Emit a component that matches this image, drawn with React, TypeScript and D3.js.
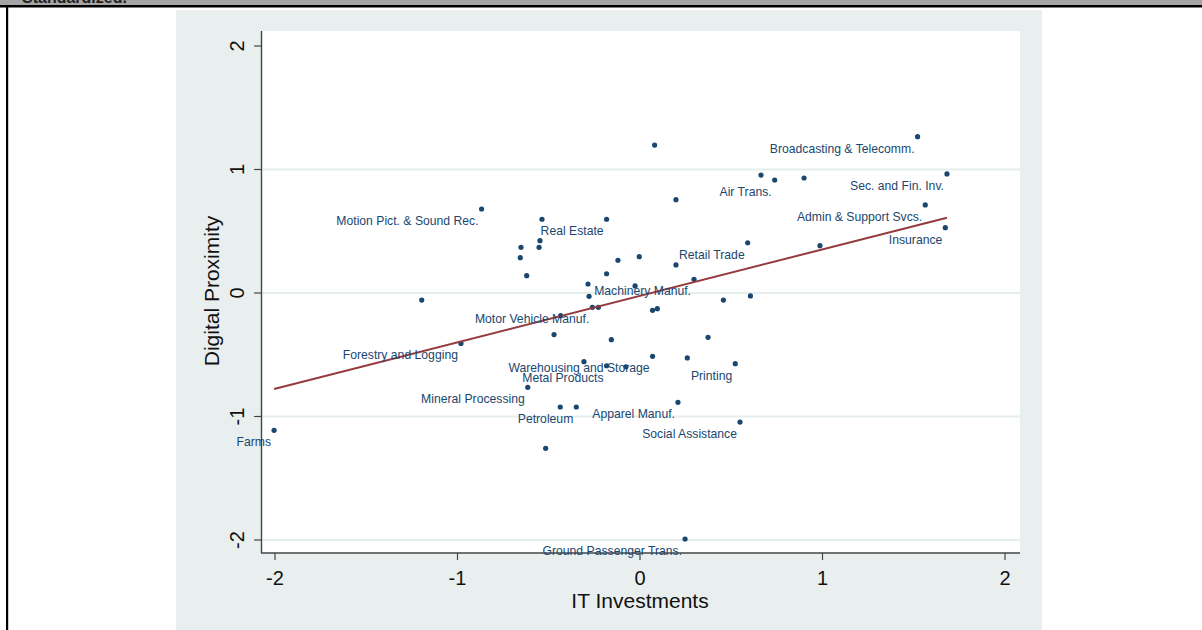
import React from "react";
import * as d3 from "d3";

// ---- Data ----
const industries: string[] = [
  "", "Broadcasting & Telecomm.", "", "Air Trans.", "", "Sec. and Fin. Inv.",
  "Motion Pict. & Sound Rec.", "", "Real Estate", "", "Admin & Support Svcs.", "Insurance",
  "", "", "", "Retail Trade", "", "", "", "", "", "", "", "Machinery Manuf.",
  "", "", "", "", "", "", "Motor Vehicle Manuf.", "", "", "", "", "", "", "",
  "Forestry and Logging", "", "Metal Products", "Warehousing and Storage", "", "Printing", "",
  "Mineral Processing", "", "Petroleum", "Apparel Manuf.", "Social Assistance", "Farms", "",
  "Ground Passenger Trans.",
];
const itInvestment: number[] = [
  0.08, 1.521, 0.663, 0.738, 0.899, 1.682,
  -0.868, -0.537, -0.183, 0.197, 1.563, 1.673,
  -0.548, -0.652, -0.553, 0.59, 0.986, -0.656, -0.121, -0.004, -0.621, -0.183, 0.197, 0.296,
  -0.285, -0.027, -1.196, -0.279, 0.457, 0.605, -0.261, -0.228, 0.069, 0.095, -0.435, -0.471, -0.157, 0.373,
  -0.981, -0.307, -0.183, 0.069, 0.259, 0.522, -0.077,
  -0.615, -0.437, -0.349, 0.208, 0.548, -2.005, -0.517,
  0.247,
];
const digitalProximity: number[] = [
  1.198, 1.266, 0.955, 0.915, 0.931, 0.964,
  0.68, 0.597, 0.597, 0.756, 0.713, 0.529,
  0.424, 0.37, 0.37, 0.407, 0.383, 0.286, 0.265, 0.294, 0.14, 0.156, 0.227, 0.111,
  0.073, 0.057, -0.057, -0.027, -0.057, -0.024, -0.116, -0.116, -0.14, -0.127, -0.184, -0.337, -0.378, -0.359,
  -0.408, -0.556, -0.589, -0.513, -0.526, -0.572, -0.597,
  -0.764, -0.923, -0.923, -0.885, -1.045, -1.112, -1.258,
  -1.992,
];
const xTicks: number[] = [-2, -1, 0, 1, 2];
const yTicks: number[] = [-2, -1, 0, 1, 2];
const yGrid: number[] = [-2, -1, 0, 1];

const NAVY = "#1a476f";
const MAROON = "#953a3e";
const FONT = "'Liberation Sans', Arial, Helvetica, sans-serif";

export default function App() {
  const W = 1202, H = 630;
  const plot = { left: 262, right: 1020, top: 31, bottom: 553 };
  const x = d3.scaleLinear().domain([-2, 2]).range([275, 1005]);
  const y = d3.scaleLinear().domain([-2, 2]).range([540, 46]);

  const pts = itInvestment.map((v, i) => ({ x: v, y: digitalProximity[i], label: industries[i] }));
  // OLS linear fit
  const mx = d3.mean(pts, (p) => p.x) as number;
  const my = d3.mean(pts, (p) => p.y) as number;
  const sxy = d3.sum(pts, (p) => (p.x - mx) * (p.y - my));
  const sxx = d3.sum(pts, (p) => (p.x - mx) ** 2);
  const b = sxy / sxx;
  const a = my - b * mx;
  const [xmin, xmax] = d3.extent(pts, (p) => p.x) as [number, number];
  const fit = [xmin, xmax].map((v) => ({ x: v, y: a + b * v }));
  const line = d3.line<{ x: number; y: number }>().x((d) => x(d.x)).y((d) => y(d.y));

  return (
    <svg
      width={W}
      height={H}
      viewBox={`0 0 ${W} ${H}`}
      style={{ position: "fixed", left: 0, top: 0, background: "#fff" }}
      fontFamily={FONT}
    >
      <defs>
        <clipPath id="topclip">
          <rect x={0} y={0} width={W} height={5} />
        </clipPath>
      </defs>
      {/* page chrome */}
      <rect x={0} y={0} width={W} height={5.5} fill="#a5a5a5" />
      <g clipPath="url(#topclip)">
        <text x={22} y={2.5} fontSize={16} fontWeight="bold" fill="#222">Standardized.</text>
      </g>
      <rect x={0} y={5} width={W} height={2.5} fill="#000" />
      <rect x={6} y={5} width={2.2} height={H - 5} fill="#000" />

      {/* graph region */}
      <rect x={176} y={10} width={866} height={H - 10} fill="#e9efef" />
      <rect x={plot.left} y={plot.top} width={plot.right - plot.left} height={plot.bottom - plot.top} fill="#fff" />

      {/* grid */}
      {yGrid.map((t) => (
        <line key={t} x1={plot.left} x2={plot.right} y1={y(t)} y2={y(t)} stroke="#e6eded" strokeWidth={2} />
      ))}

      {/* axes */}
      <line x1={plot.left - 0.5} x2={plot.left - 0.5} y1={plot.top} y2={plot.bottom} stroke="#444" strokeWidth={1.4} />
      <line x1={plot.left - 1} x2={plot.right} y1={plot.bottom} y2={plot.bottom} stroke="#444" strokeWidth={1.4} />
      {yTicks.map((t) => (
        <g key={t}>
          <line x1={plot.left - 8} x2={plot.left} y1={y(t)} y2={y(t)} stroke="#444" strokeWidth={1.2} />
          <text
            transform={`translate(${244},${y(t)}) rotate(-90)`}
            textAnchor="middle"
            fontSize={20}
            fill="#111"
          >
            {t}
          </text>
        </g>
      ))}
      {xTicks.map((t) => (
        <g key={t}>
          <line x1={x(t)} x2={x(t)} y1={plot.bottom} y2={plot.bottom + 7} stroke="#444" strokeWidth={1.2} />
          <text x={x(t)} y={585} textAnchor="middle" fontSize={20} fill="#111">
            {t}
          </text>
        </g>
      ))}
      <text x={640} y={608} textAnchor="middle" fontSize={21} fill="#111">IT Investments</text>
      <text transform="translate(219,291) rotate(-90)" textAnchor="middle" fontSize={21} fill="#111">
        Digital Proximity
      </text>

      {/* points */}
      {pts.map((p, i) => (
        <circle key={i} cx={x(p.x)} cy={y(p.y)} r={2.6} fill={NAVY} />
      ))}

      {/* fit line */}
      <path d={line(fit) || ""} fill="none" stroke={MAROON} strokeWidth={2} />

      {/* labels */}
      {pts.map((p, i) =>
        p.label ? (
          <text
            key={"l" + i}
            x={x(p.x) - 3}
            y={y(p.y) + 16}
            textAnchor="end"
            fontSize={12.2}
            fill={NAVY}
          >
            {p.label}
          </text>
        ) : null
      )}
    </svg>
  );
}
